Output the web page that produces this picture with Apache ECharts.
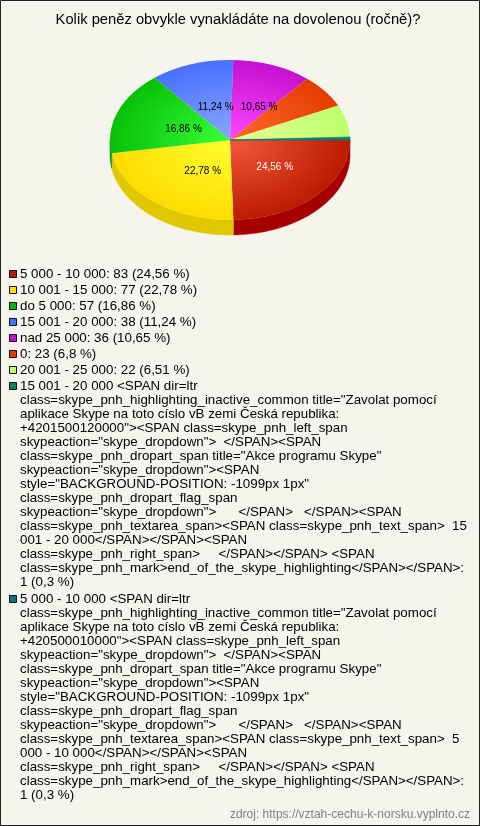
<!DOCTYPE html>
<html><head><meta charset="utf-8">
<style>html,body{margin:0;padding:0;background:#f5f5ee}#c{width:480px;height:826px}</style>
<script src="https://cdn.jsdelivr.net/npm/echarts@6/dist/echarts.min.js"></script>
</head><body><div id="c"></div>
<script>
const titleText = 'Kolik peněz obvykle vynakládáte na dovolenou (ročně)?';
const footerText = 'zdroj: https://vztah-cechu-k-norsku.vyplnto.cz';
const categories = ['5 000 - 10 000','10 001 - 15 000','do 5 000','15 001 - 20 000','nad 25 000','0','20 001 - 25 000','skype 15 001 - 20 000','skype 5 000 - 10 000'];
const values = [83,77,57,38,36,23,22,1,1];
const sliceLabels = ['24,56 %','22,78 %','16,86 %','11,24 %','10,65 %','','','',''];
const labelColors = ['#ffffff','#000','#000','#000','#000','#000','#000','#000','#000'];
const innerColors = ['#f4583a','#ffff30','#38ff38','#88a8ff','#ff48ff','#ff6c28','#e4ff9c','#1a8a68','#2a7c98'];
const outerColors = ['#bb1c00','#ffdc00','#08c008','#4870ff','#c410d0','#e43c00','#bcff68','#0c8458','#0f7088'];
const sideColors = ['#a60000','#e0c800','#0a9a0a','#3858cc','#9a0ca8','#b43000','#98cc54','#0a6a46','#0c5a6c'];
const legendColors = ['#b81c00','#ffe000','#08b808','#4870ff','#c010d0','#e03c00','#c4ff70','#0c8458','#0f7088'];
const legendEntries = [
 ['5 000 - 10 000: 83 (24,56 %)'],
 ['10 001 - 15 000: 77 (22,78 %)'],
 ['do 5 000: 57 (16,86 %)'],
 ['15 001 - 20 000: 38 (11,24 %)'],
 ['nad 25 000: 36 (10,65 %)'],
 ['0: 23 (6,8 %)'],
 ['20 001 - 25 000: 22 (6,51 %)'],
 ['15 001 - 20 000 <SPAN dir=ltr',
  'class=skype_pnh_highlighting_inactive_common title="Zavolat pomocí',
  'aplikace Skype na toto císlo vB zemi Česká republika:',
  '+4201500120000"><SPAN class=skype_pnh_left_span',
  'skypeaction="skype_dropdown">\u00a0\u00a0</SPAN><SPAN',
  'class=skype_pnh_dropart_span title="Akce programu Skype"',
  'skypeaction="skype_dropdown"><SPAN',
  'style="BACKGROUND-POSITION: -1099px 1px"',
  'class=skype_pnh_dropart_flag_span',
  'skypeaction="skype_dropdown">\u00a0\u00a0\u00a0\u00a0\u00a0\u00a0</SPAN>\u00a0\u00a0\u00a0</SPAN><SPAN',
  'class=skype_pnh_textarea_span><SPAN class=skype_pnh_text_span>\u00a0\u00a015',
  '001 - 20 000</SPAN></SPAN><SPAN',
  'class=skype_pnh_right_span>\u00a0\u00a0\u00a0\u00a0\u00a0</SPAN></SPAN> <SPAN',
  'class=skype_pnh_mark>end_of_the_skype_highlighting</SPAN></SPAN>:',
  '1 (0,3 %)'],
 ['5 000 - 10 000 <SPAN dir=ltr',
  'class=skype_pnh_highlighting_inactive_common title="Zavolat pomocí',
  'aplikace Skype na toto císlo vB zemi Česká republika:',
  '+420500010000"><SPAN class=skype_pnh_left_span',
  'skypeaction="skype_dropdown">\u00a0\u00a0</SPAN><SPAN',
  'class=skype_pnh_dropart_span title="Akce programu Skype"',
  'skypeaction="skype_dropdown"><SPAN',
  'style="BACKGROUND-POSITION: -1099px 1px"',
  'class=skype_pnh_dropart_flag_span',
  'skypeaction="skype_dropdown">\u00a0\u00a0\u00a0\u00a0\u00a0\u00a0</SPAN>\u00a0\u00a0\u00a0</SPAN><SPAN',
  'class=skype_pnh_textarea_span><SPAN class=skype_pnh_text_span>\u00a0\u00a05',
  '000 - 10 000</SPAN></SPAN><SPAN',
  'class=skype_pnh_right_span>\u00a0\u00a0\u00a0\u00a0\u00a0</SPAN></SPAN> <SPAN',
  'class=skype_pnh_mark>end_of_the_skype_highlighting</SPAN></SPAN>:',
  '1 (0,3 %)']
];

const FONT = '"Liberation Sans", Arial, sans-serif';
const cx = 230, cy = 140, rx = 120, ry = 80, depth = 15;
const labelNudge = [[0,-1],[1,0],[-2,-1],[-3,-2],[4,-2]];
const total = values.reduce((a, b) => a + b, 0);
const starts = [];
values.reduce((acc, v, i) => { starts[i] = acc; return acc + v; }, 0);
const ang = v => v / total * Math.PI * 2;

function sidePoints(a0, a1) {
  const lo = Math.max(a0, 0), hi = Math.min(a1, Math.PI);
  if (hi <= lo) return null;
  const steps = Math.max(2, Math.ceil((hi - lo) * 40));
  const top = [], bot = [];
  for (let k = 0; k <= steps; k++) {
    const a = lo + (hi - lo) * k / steps;
    const x = cx + rx * Math.cos(a), y = cy + ry * Math.sin(a);
    top.push([x, y]); bot.unshift([x, y + depth]);
  }
  return top.concat(bot);
}

function renderSlice(params, api) {
  const i = api.value(0), v = api.value(1);
  const a0 = ang(starts[i]), a1 = a0 + ang(v), mid = (a0 + a1) / 2;
  const children = [];
  const pts = sidePoints(a0, a1);
  if (pts) children.push({ type: 'polygon', shape: { points: pts }, style: { fill: sideColors[i], stroke: sideColors[i], lineWidth: 0.5 } });
  const thin = v / total < 0.01;
  children.push({
    type: 'sector',
    originX: cx, originY: cy, scaleY: ry / rx,
    shape: { cx, cy, r: rx, r0: 0, startAngle: a0, endAngle: a1, clockwise: true },
    style: {
      fill: new echarts.graphic.RadialGradient(cx, cy, rx, [
        { offset: 0, color: innerColors[i] }, { offset: 1, color: outerColors[i] }], true),
      stroke: thin ? outerColors[i] : null, lineWidth: thin ? 0.8 : 0
    }
  });
  if (sliceLabels[i]) {
    const n = labelNudge[i];
    children.push({
      type: 'text', z2: 10,
      style: { x: cx + rx * 0.45 * Math.cos(mid) + 6 + n[0], y: cy + ry * 0.45 * Math.sin(mid) + 3 + n[1],
        text: sliceLabels[i], fill: labelColors[i], font: '10px ' + FONT, align: 'center', verticalAlign: 'middle' }
    });
  }
  return { type: 'group', children };
}

const graphics = [
  { type: 'rect', silent: true, z: -1, shape: { x: 0.5, y: 0.5, width: 479, height: 825 }, style: { fill: '#f5f5ee', stroke: '#222', lineWidth: 1 } },
  { type: 'text', style: { x: 238, y: 20, text: titleText, font: '14.75px ' + FONT, fill: '#000', align: 'center', verticalAlign: 'middle' } },
  { type: 'text', style: { x: 470, y: 815, text: footerText, font: '12px ' + FONT, fill: '#808080', align: 'right', verticalAlign: 'middle' } }
];
let ly = 274;
legendEntries.forEach((lines, i) => {
  graphics.push({ type: 'rect', shape: { x: 9.5, y: Math.round(ly) - 3.5, width: 7, height: 7 }, style: { fill: legendColors[i], stroke: '#111', lineWidth: 1 } });
  lines.forEach((t, k) => {
    graphics.push({ type: 'text', style: { x: 20, y: ly + k * 14, text: t, font: '13.33px ' + FONT, fill: '#000', align: 'left', verticalAlign: 'middle' } });
  });
  ly += (lines.length - 1) * 14 + (lines.length > 1 ? 17 : 16);
});

const chart = echarts.init(document.getElementById('c'), null, { renderer: 'canvas' });
chart.setOption({
  animation: false,
  backgroundColor: '#f5f5ee',
  graphic: graphics,
  series: [{
    type: 'custom',
    coordinateSystem: 'none',
    renderItem: renderSlice,
    encode: { value: 1, itemName: 2 },
    data: values.map((v, i) => [i, v, categories[i]])
  }]
});
</script></body></html>
